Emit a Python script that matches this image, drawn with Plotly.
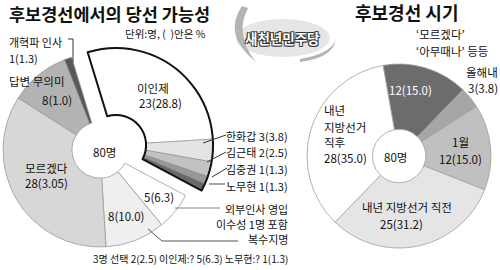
import plotly.graph_objects as go

W, H = 500, 270
FONT = "Noto Sans CJK KR"

# ---------------- data ----------------
left_labels = ["이인제", "한화갑", "김근태", "김중권", "노무현",
               "외부인사 영입", "복수지명", "모르겠다", "답변 무의미", "개혁파 인사"]
left_values = [23, 3, 2, 1, 1, 5, 8, 28, 8, 1]
left_pct = ["28.8", "3.8", "2.5", "1.3", "1.3", "6.3", "10.0", "3.05", "1.0", "1.3"]
left_pulled = [True, True, True, True, True, False, False, False, False, False]

right_labels = ["모르겠다·아무때나 등등", "올해내", "1월", "내년 지방선거 직전", "내년 지방선거 직후"]
right_values = [12, 3, 12, 25, 28]
right_pct = ["15.0", "3.8", "15.0", "31.2", "35.0"]

total_n = 80

# ---------------- styles ----------------
left_colors = ["#ffffff", "#e4e4e4", "#c2c2c2", "#989898", "#686868",
               "#ffffff", "#efefef", "#d7d7d7", "#b3b3b3", "#585858"]
right_colors = ["#6c6c6c", "#a6a6a6", "#c0c0c0", "#e5e5e5", "#ffffff"]
CLEAR = "rgba(0,0,0,0)"


def px(x):
    return x / W


def py(y):
    return 1 - y / H


def dom(cx, cy, r):
    return dict(x=[px(cx - r), px(cx + r)], y=[py(cy + r), py(cy - r)])


fig = go.Figure()

L_ROT = -17
# base (non-pulled) slices
fig.add_trace(go.Pie(
    labels=["a" + l for l in left_labels], values=left_values, sort=False,
    direction="clockwise", rotation=L_ROT, hole=0.29,
    marker=dict(colors=[CLEAR if p else c for c, p in zip(left_colors, left_pulled)],
                line=dict(color=[CLEAR if p else "#9a9a9a" for p in left_pulled], width=0.8)),
    textinfo="none", hoverinfo="skip", showlegend=False,
    domain=dom(100, 150, 97)))
# pulled group slices
fig.add_trace(go.Pie(
    labels=["b" + l for l in left_labels], values=left_values, sort=False,
    direction="clockwise", rotation=L_ROT, hole=0.31,
    marker=dict(colors=[c if p else CLEAR for c, p in zip(left_colors, left_pulled)],
                line=dict(color=["#8a8a8a" if p else CLEAR for p in left_pulled], width=0.6)),
    textinfo="none", hoverinfo="skip", showlegend=False,
    domain=dom(116, 145, 97)))
# outline of pulled group
grp = sum(v for v, p in zip(left_values, left_pulled) if p)
fig.add_trace(go.Pie(
    labels=["grp", "rest"], values=[grp, total_n - grp], sort=False,
    direction="clockwise", rotation=L_ROT, hole=0.31,
    marker=dict(colors=[CLEAR, CLEAR], line=dict(color=["#111111", CLEAR], width=[2, 0])),
    textinfo="none", hoverinfo="skip", showlegend=False,
    domain=dom(116, 145, 97)))

# right donut
fig.add_trace(go.Pie(
    labels=right_labels, values=right_values, sort=False,
    direction="clockwise", rotation=-10, hole=0.29,
    marker=dict(colors=right_colors, line=dict(color="#a0a0a0", width=0.8)),
    textinfo="none", hoverinfo="skip", showlegend=False,
    domain=dom(399, 156, 92)))

ann = []


def T(x, y, s, size=11.5, anchor="center", color="#111111", bold=False, **kw):
    ann.append(dict(x=px(x), y=py(y), xref="paper", yref="paper", text=(f"<b>{s}</b>" if bold else s),
                    showarrow=False, xanchor=anchor, yanchor="middle", borderpad=0,
                    font=dict(family=FONT, size=size, color=color, **kw)))


def lab(i, values, pct):
    return f"{values[i]}({pct[i]})"


# titles
T(8, 14, "후보경선에서의 당선 가능성", size=17.5, anchor="left", bold=True)
T(406, 12, "후보경선 시기", size=18, anchor="center", bold=True)
T(165, 33, "단위:명, (  )안은 %", size=10.5)

# logo
T(282, 38, "<b>새천년민주당</b>", size=13.5, color="#ffffff",
  shadow="1px 1px 0 #333, -1px -1px 0 #333, 1px -1px 0 #333, -1px 1px 0 #333")

# left labels
T(8, 42, left_labels[9], anchor="left", size=11)
T(8, 58, lab(9, left_values, left_pct), anchor="left", size=11)
T(8, 81, left_labels[8], anchor="left")
T(57, 100, lab(8, left_values, left_pct))
T(153, 88, left_labels[0])
T(160, 103, lab(0, left_values, left_pct))
T(104, 152, f"{total_n}명")
T(46, 168, left_labels[7])
T(46, 183, lab(7, left_values, left_pct))
T(159, 197, lab(5, left_values, left_pct))
T(126, 216, lab(6, left_values, left_pct))
for i, y in zip([1, 2, 3, 4], [136, 152, 169, 186]):
    T(289, y, f"{left_labels[i]} {lab(i, left_values, left_pct)}", anchor="right", size=11)
T(289, 209, left_labels[5], anchor="right", size=11)
T(289, 224, "이수성 1명 포함", anchor="right", size=11)
T(289, 239, left_labels[6], anchor="right", size=11)
T(289, 258, "3명 선택 2(2.5) 이인제:? 5(6.3) 노무현:? 1(1.3)", anchor="right", size=10)

# right labels
T(415, 34, "‘모르겠다’", anchor="left")
T(415, 51, "‘아무때나’ 등등", anchor="left")
T(499, 72, right_labels[1], anchor="right")
T(499, 88, lab(1, right_values, right_pct), anchor="right")
T(410, 90, lab(0, right_values, right_pct), color="#ffffff")
T(323, 110, "내년", anchor="left")
T(323, 127, "지방선거", anchor="left")
T(323, 142, "직후", anchor="left")
T(323, 158, lab(4, right_values, right_pct), anchor="left")
T(460, 142, right_labels[2])
T(460, 159, lab(2, right_values, right_pct))
T(407, 207, right_labels[3])
T(401, 224, lab(3, right_values, right_pct))
T(395, 157, f"{total_n}명")

shapes = []


def P(pts, color="#333333", width=1):
    d = "M " + " L ".join(f"{px(x)},{py(y)}" for x, y in pts)
    shapes.append(dict(type="path", path=d, xref="paper", yref="paper",
                       line=dict(color=color, width=width)))


# logo decorations
shapes.append(dict(type="circle", xref="paper", yref="paper", x0=px(236), x1=px(330), y0=py(57), y1=py(19),
                   fillcolor="#e6e6e6", line=dict(width=0), layer="below"))
shapes.append(dict(type="path", xref="paper", yref="paper", layer="below",
                   path=f"M {px(242)},{py(6)} Q {px(222)},{py(35)} {px(256)},{py(62)} Q {px(234)},{py(35)} {px(248)},{py(8)} Z",
                   fillcolor="#b4b4b4", line=dict(width=0)))
shapes.append(dict(type="path", xref="paper", yref="paper", layer="below",
                   path=f"M {px(300)},{py(62)} Q {px(332)},{py(58)} {px(336)},{py(40)} Q {px(330)},{py(54)} {px(300)},{py(59)} Z",
                   fillcolor="#b4b4b4", line=dict(width=0)))

# leader lines
P([(68, 39), (73, 39), (73, 62)])
P([(226, 135), (203, 143)])
P([(226, 152), (207, 162)])
P([(227, 168), (212, 177)])
P([(209, 184), (225, 184)], color="#888888", width=1.5)
P([(175, 208), (220, 208)], color="#888888", width=1.2)
P([(148, 229), (162, 241), (238, 241)], color="#555555")

fig.update_layout(width=W, height=H, margin=dict(l=0, r=0, t=0, b=0),
                  paper_bgcolor="white", plot_bgcolor="white",
                  annotations=ann, shapes=shapes)
fig.write_html("out.html")
